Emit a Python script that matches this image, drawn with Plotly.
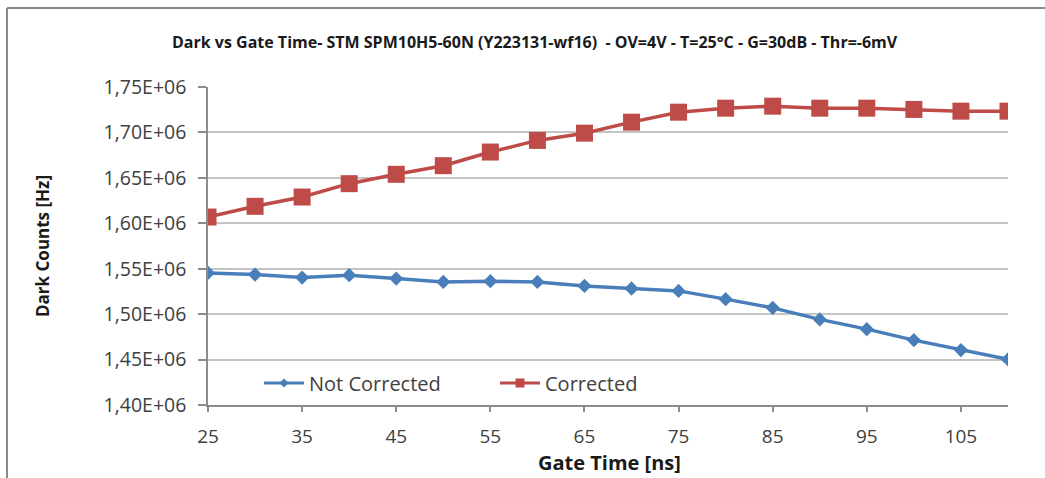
import plotly.graph_objects as go

# Gate time (ns)
gate_time = [25, 30, 35, 40, 45, 50, 55, 60, 65, 70, 75, 80, 85, 90, 95, 100, 105, 110]

# Dark counts (Hz)
not_corrected = [1.5454e6, 1.5436e6, 1.5403e6, 1.5429e6, 1.5392e6, 1.5355e6, 1.5363e6, 1.5355e6,
                 1.5311e6, 1.5282e6, 1.5256e6, 1.5165e6, 1.5069e6, 1.4942e6, 1.4835e6, 1.4714e6,
                 1.4604e6, 1.4502e6]
corrected = [1.6069e6, 1.6187e6, 1.6289e6, 1.6436e6, 1.6539e6, 1.6634e6, 1.6784e6, 1.6912e6,
             1.6992e6, 1.7113e6, 1.7223e6, 1.7267e6, 1.7289e6, 1.7267e6, 1.7267e6, 1.7253e6,
             1.7234e6, 1.7234e6]

x_tick_vals = [25, 35, 45, 55, 65, 75, 85, 95, 105]
y_tick_vals = [1.40e6, 1.45e6, 1.50e6, 1.55e6, 1.60e6, 1.65e6, 1.70e6, 1.75e6]
y_tick_text = ["1,40E+06", "1,45E+06", "1,50E+06", "1,55E+06",
               "1,60E+06", "1,65E+06", "1,70E+06", "1,75E+06"]

title_text = "Dark vs Gate Time- STM SPM10H5-60N (Y223131-wf16)  - OV=4V - T=25°C - G=30dB - Thr=-6mV"

BLUE = "#4a7ebb"
RED = "#be4b48"
FONT = "Open Sans"

fig = go.Figure()

fig.add_trace(go.Scatter(
    x=gate_time, y=not_corrected, mode="lines+markers", showlegend=False,
    line=dict(color=BLUE, width=3.5),
    marker=dict(symbol="diamond", size=11, color=BLUE),
))
fig.add_trace(go.Scatter(
    x=gate_time, y=corrected, mode="lines+markers", showlegend=False,
    line=dict(color=RED, width=3.5),
    marker=dict(symbol="square", size=17, color=RED),
))

# legend entries with compact symbols
fig.add_trace(go.Scatter(
    x=[None], y=[None], mode="lines+markers", name="Not Corrected",
    line=dict(color=BLUE, width=3), marker=dict(symbol="diamond", size=7, color=BLUE),
))
fig.add_trace(go.Scatter(
    x=[None], y=[None], mode="lines+markers", name="Corrected",
    line=dict(color=RED, width=3), marker=dict(symbol="square", size=9, color=RED),
))

W, H = 1045, 478
L, R, T, B = 208, 37, 87, 73
pw = W - L - R
ph = H - T - B

def px_x(px):
    return (px - L) / pw

def px_y(py):
    return (H - B - py) / ph

fig.update_layout(
    width=W, height=H,
    margin=dict(l=L, r=R, t=T, b=B),
    paper_bgcolor="white", plot_bgcolor="white",
    font=dict(family=FONT, color="#404040"),
    showlegend=True,
    legend=dict(
        orientation="h", x=px_x(259), y=px_y(383), xanchor="left", yanchor="middle",
        font=dict(family=FONT, size=20, color="#404040"),
        entrywidth=181, entrywidthmode="pixels", itemwidth=40,
        bgcolor="rgba(0,0,0,0)", itemclick=False, itemdoubleclick=False,
        tracegroupgap=0,
    ),
    xaxis=dict(
        range=[25, 110], tickvals=x_tick_vals, ticktext=[str(v) for v in x_tick_vals],
        showgrid=False, zeroline=False,
        showline=True, linecolor="#8c8c8c", linewidth=1.5,
        ticks="outside", ticklen=5, tickcolor="#8c8c8c", tickwidth=1.5,
        tickfont=dict(family=FONT, size=19, color="#404040"),
        ticklabelstandoff=8,
    ),
    yaxis=dict(
        range=[1.40e6, 1.75e6], tickvals=y_tick_vals, ticktext=y_tick_text,
        showgrid=True, gridcolor="#c4c4c4", gridwidth=1.5, zeroline=False,
        showline=True, linecolor="#8c8c8c", linewidth=1.5,
        ticks="outside", ticklen=8, tickcolor="#8c8c8c", tickwidth=1.5,
        tickfont=dict(family=FONT, size=19.5, color="#404040"),
        ticklabelstandoff=8,
    ),
    annotations=[
        dict(text="<b>" + title_text + "</b>", xref="paper", yref="paper",
             x=px_x(535), y=px_y(42), xanchor="center", yanchor="middle",
             showarrow=False, font=dict(family=FONT, size=16, color="#1a1a1a")),
        dict(text="<b>Dark Counts [Hz]</b>", xref="paper", yref="paper",
             x=px_x(42), y=px_y(246), xanchor="center", yanchor="middle", textangle=-90,
             showarrow=False, font=dict(family=FONT, size=17, color="#1a1a1a")),
        dict(text="<b>Gate Time [ns]</b>", xref="paper", yref="paper",
             x=px_x(609), y=px_y(462), xanchor="center", yanchor="middle",
             showarrow=False, font=dict(family=FONT, size=20, color="#1a1a1a")),
    ],
    shapes=[
        # chart frame: top and left edges
        dict(type="line", xref="paper", yref="paper",
             x0=px_x(7), x1=px_x(W + 5), y0=px_y(8), y1=px_y(8),
             line=dict(color="#8a8a8a", width=2)),
        dict(type="line", xref="paper", yref="paper",
             x0=px_x(7), x1=px_x(7), y0=px_y(8), y1=px_y(H + 5),
             line=dict(color="#8a8a8a", width=2)),
    ],
)

fig.write_html("out.html")
